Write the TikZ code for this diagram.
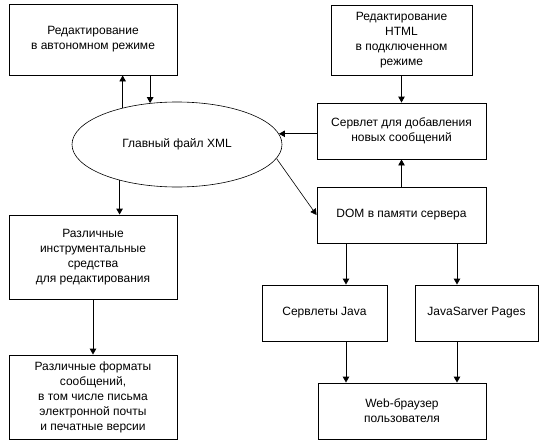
\documentclass[tikz,border=0pt]{standalone}
\usepackage{fontspec}
\setmainfont{Liberation Sans}
\usetikzlibrary{shapes.geometric,arrows.meta}
\begin{document}
\begin{tikzpicture}[x=1pt,y=-1pt,
  box/.style={draw,line width=0.9pt,align=center,inner sep=0pt,font=\fontsize{12}{15}\selectfont},
  arr/.style={line width=0.9pt,-{Triangle[length=6pt,width=6.5pt]}},
  thin arr/.style={line width=0.6pt,-{Triangle[length=6pt,width=6.5pt]}}]
\useasboundingbox (0,0) rectangle (545,444);
\node[box,minimum width=168pt,minimum height=71pt] (b1) at (93,39.5) {Редактирование\\в автономном режиме};
\node[draw,line width=0.6pt,ellipse,minimum width=210pt,minimum height=85pt,inner sep=0pt,font=\fontsize{12}{15}\selectfont] (ell) at (177,144.5) {Главный файл XML};
\node[box,minimum width=168pt,minimum height=84pt] (b3) at (93,257) {Различные\\инструментальные\\средства\\для редактирования};
\node[box,minimum width=168pt,minimum height=84pt] (b4) at (93,397) {Различные форматы\\сообщений,\\в том числе письма\\электронной почты\\и печатные версии};
\node[box,minimum width=141pt,minimum height=70pt] (b2) at (401.5,40) {Редактирование\\HTML\\в подключенном\\режиме};
\node[box,minimum width=169pt,minimum height=56pt] (srv) at (401.5,131) {Сервлет для добавления\\новых сообщений};
\node[box,minimum width=169pt,minimum height=56pt] (dom) at (401.5,215) {DOM в памяти сервера};
\node[box,minimum width=125pt,minimum height=56pt] (java) at (324.5,313) {Сервлеты Java};
\node[box,minimum width=123pt,minimum height=56pt] (jsp) at (476.5,313) {JavaSarver Pages};
\node[box,minimum width=168pt,minimum height=56pt] (br) at (402,411) {Web-браузер\\пользователя};
% connectors
\draw[arr] (ell.146.6) -- (ell.146.6 |- b1.south);
\draw[arr] (b1.south -| ell.123.3) -- (ell.123.3);
\draw[arr] (ell.212.7) -- (ell.212.7 |- b3.north);
\draw[arr] (b3.south) -- (b4.north);
\draw[arr] (b2.south) -- (srv.north);
\draw[arr] (dom.north) -- (srv.south);
\draw[arr] (srv.west |- ell.6.5) -- (ell.6.5);
\draw[thin arr] (ell.-8.9) -- (dom.west);
\draw[arr] ([xshift=21.5pt]java.north |- dom.south) -- ([xshift=21.5pt]java.north);
\draw[arr] ([xshift=-19.5pt]jsp.north |- dom.south) -- ([xshift=-19.5pt]jsp.north);
\draw[arr] ([xshift=21.5pt]java.south) -- ([xshift=21.5pt]java.south |- br.north);
\draw[arr] ([xshift=-19.5pt]jsp.south) -- ([xshift=-19.5pt]jsp.south |- br.north);
\end{tikzpicture}
\end{document}
